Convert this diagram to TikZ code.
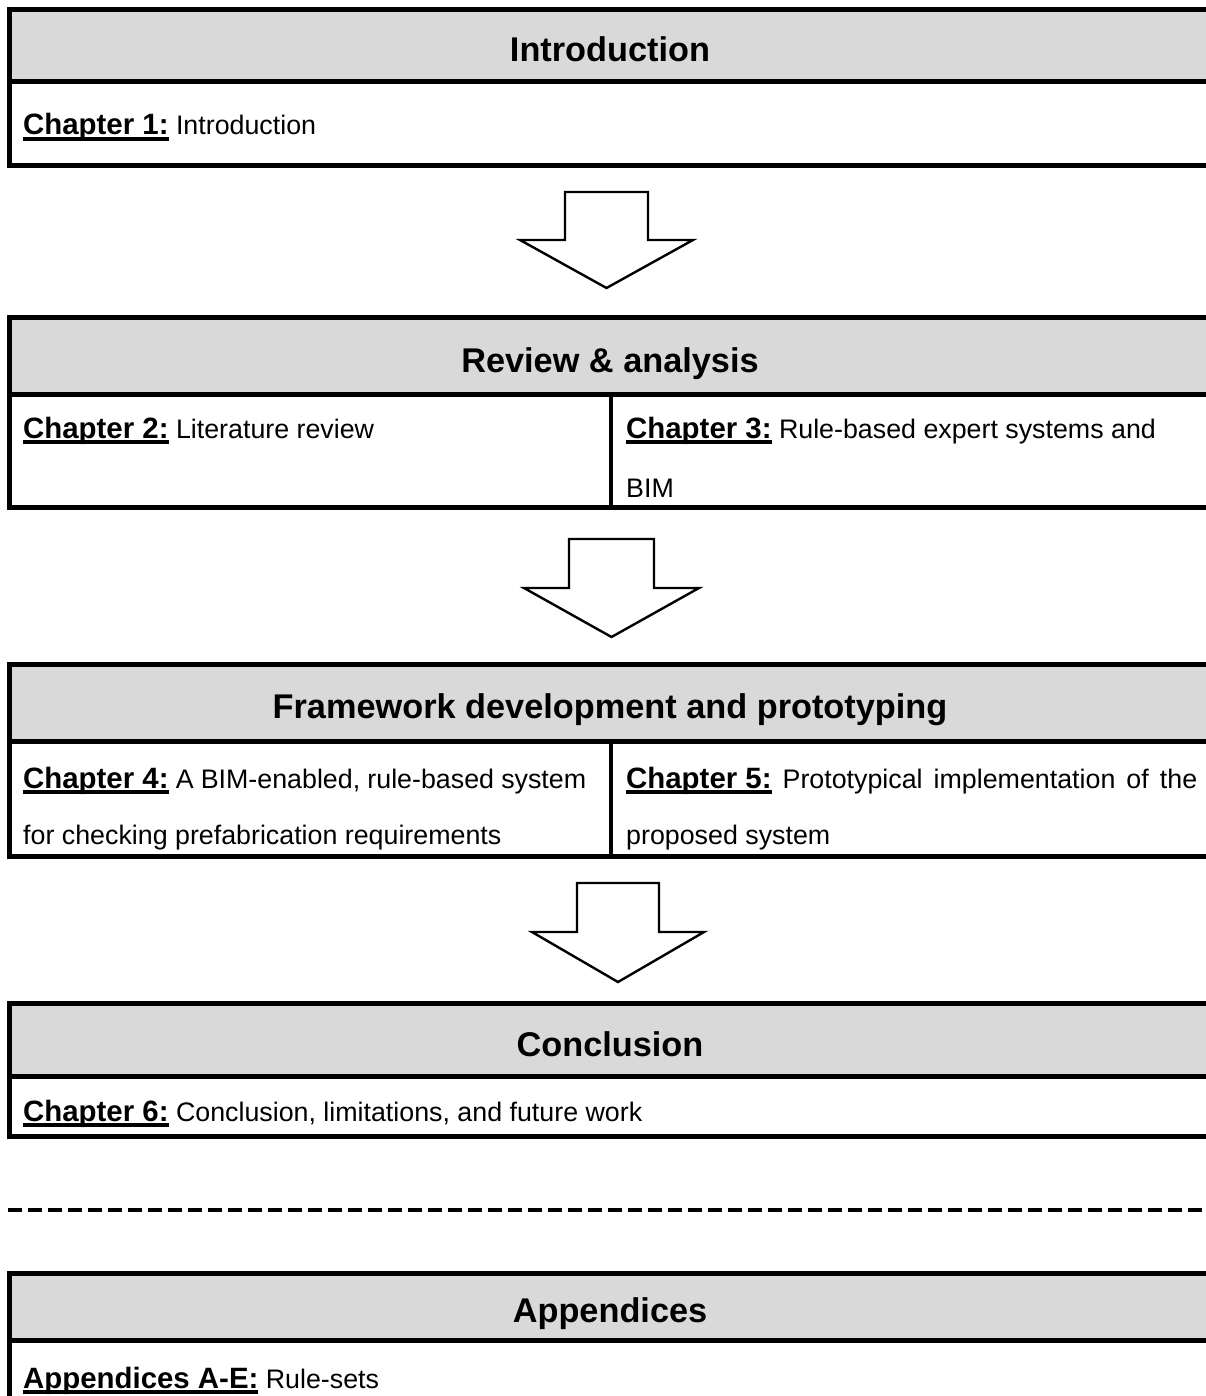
\documentclass[tikz,border=0pt]{standalone}
\usepackage{fontspec}
\setmainfont{Liberation Sans}
\definecolor{hdrgray}{HTML}{D9D9D9}
\newcommand\chapul[1]{{\fontsize{29.4}{32}\selectfont\bfseries\setbox0=\hbox{#1}\rlap{\rule[-0.2em]{\wd0}{0.12em}}\box0\relax}}
\tikzset{
  frame/.style={line width=5pt, line join=miter},
  divider/.style={line width=4.5pt},
  blockarrow/.style={draw, line width=2.4pt, line join=miter, fill=white},
  boxtitle/.style={anchor=base, inner sep=0pt, font=\fontsize{34.3}{40}\selectfont\bfseries},
  bodytext/.style={anchor=base west, inner sep=0pt, font=\fontsize{26.8}{32}\selectfont},
  sepline/.style={line width=4.5pt, dash pattern=on 14pt off 6pt},
}
\begin{document}
\begin{tikzpicture}[x=1pt, y=-1pt]
\useasboundingbox (0,0) rectangle (1206,1396);
\clip (0,0) rectangle (1206,1396);
\fill[white] (0,0) rectangle (1206,1396);

% ---------- Box 1: Introduction ----------
\fill[hdrgray] (9.5,9.5) rectangle (1230,82);
\draw[frame] (1230,9.5) -- (9.5,9.5) -- (9.5,166) -- (1230,166);
\draw[frame] (9.5,82) -- (1230,82);
\node[boxtitle] (t1) at (610,62) {Introduction};
\node[bodytext] (c1) at (23,135) {\chapul{Chapter 1:} Introduction};

% ---------- Arrow 1 ----------
\draw[blockarrow] (565,192) -- (648,192) -- (648,240) -- (693,240) -- (606.5,288) -- (520,240) -- (565,240) -- cycle;

% ---------- Box 2: Review & analysis ----------
\fill[hdrgray] (9.5,317) rectangle (1230,394);
\draw[frame] (1230,317) -- (9.5,317) -- (9.5,507) -- (1230,507);
\draw[frame] (9.5,394) -- (1230,394);
\draw[divider] (611,394) -- (611,507);
\node[boxtitle] (t2) at (610,372) {Review \& analysis};
\node[bodytext] (c2) at (23,438) {\chapul{Chapter 2:} Literature review};
\node[bodytext] (c3a) at (626,438) {\chapul{Chapter 3:} Rule-based expert systems and};
\node[bodytext] (c3b) at (626,497) {BIM};

% ---------- Arrow 2 ----------
\draw[blockarrow] (569,539) -- (654,539) -- (654,588) -- (699,588) -- (611.5,637) -- (524,588) -- (569,588) -- cycle;

% ---------- Box 3: Framework development and prototyping ----------
\fill[hdrgray] (9.5,664) rectangle (1230,741);
\draw[frame] (1230,664) -- (9.5,664) -- (9.5,856) -- (1230,856);
\draw[frame] (9.5,741) -- (1230,741);
\draw[divider] (611,741) -- (611,856);
\node[boxtitle] (t3) at (610,718) {Framework development and prototyping};
\node[bodytext] (c4a) at (23,788) {\makebox[563pt][s]{\chapul{Chapter 4:} A BIM-enabled, rule-based system}};
\node[bodytext] (c4b) at (23,844) {for checking prefabrication requirements};
\node[bodytext] (c5a) at (626,788) {\makebox[571pt][s]{\chapul{Chapter 5:} Prototypical implementation of the}};
\node[bodytext] (c5b) at (626,844) {proposed system};

% ---------- Arrow 3 ----------
\draw[blockarrow] (577,883) -- (659,883) -- (659,932) -- (704,932) -- (618,982) -- (532,932) -- (577,932) -- cycle;

% ---------- Box 4: Conclusion ----------
\fill[hdrgray] (9.5,1003) rectangle (1230,1076);
\draw[frame] (1230,1003) -- (9.5,1003) -- (9.5,1136) -- (1230,1136);
\draw[frame] (9.5,1076) -- (1230,1076);
\node[boxtitle] (t4) at (610,1056) {Conclusion};
\node[bodytext] (c6) at (23,1121) {\chapul{Chapter 6:} Conclusion, limitations, and future work};

% ---------- Dashed separator ----------
\coordinate (dl) at (8,1210);
\coordinate (dr) at (1230,1210);
\draw[sepline] (dl) -- (dr);

% ---------- Box 5: Appendices ----------
\fill[hdrgray] (9.5,1273) rectangle (1230,1340);
\draw[frame] (1230,1273) -- (9.5,1273) -- (9.5,1430);
\draw[frame] (9.5,1340) -- (1230,1340);
\node[boxtitle] (t5) at (610,1322) {Appendices};
\node[bodytext] (ap) at (23,1388) {\chapul{Appendices A-E:} Rule-sets};
\end{tikzpicture}
\end{document}
